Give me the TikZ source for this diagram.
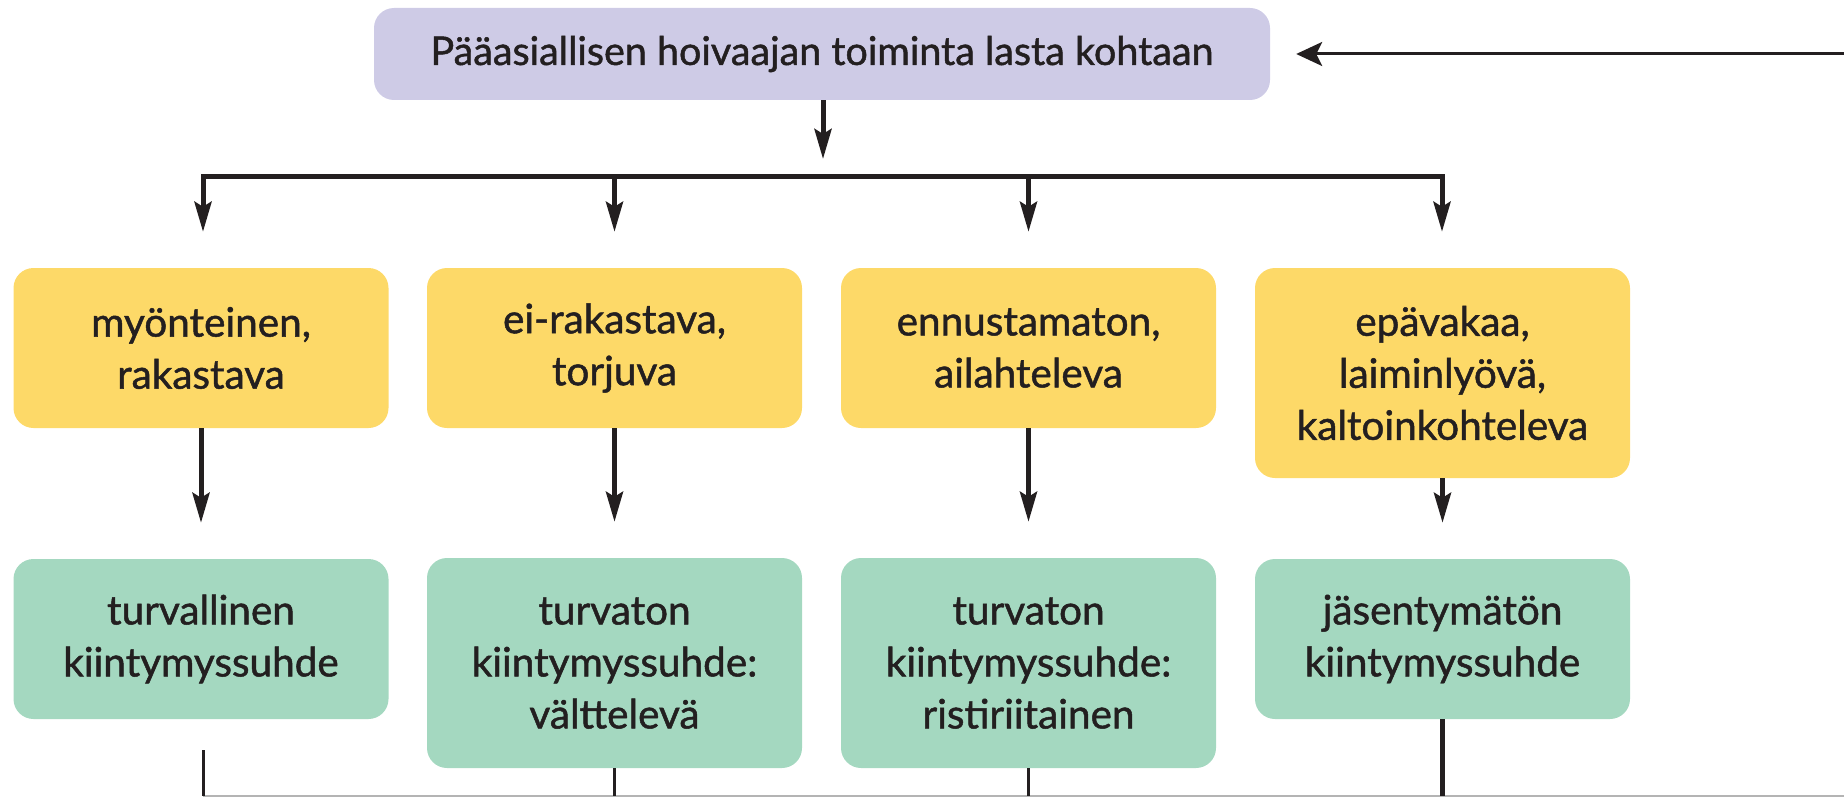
\documentclass[tikz,border=0pt]{standalone}
\usepackage{fontspec}
\setmainfont{Lato}[UprightFeatures={FakeBold=1.2}]
\usetikzlibrary{arrows.meta}
\definecolor{lav}{HTML}{CECBE6}
\definecolor{yel}{HTML}{FDD968}
\definecolor{grn}{HTML}{A4D8C0}
\definecolor{ink}{HTML}{231F20}
\definecolor{lgray}{HTML}{B4B4B4}
\begin{document}
\begin{tikzpicture}[x=1pt,y=-1pt,
 box/.style={rounded corners=20pt, minimum width=375pt, inner sep=0pt, align=center, text=ink, font=\fontsize{40.5}{52}\selectfont},
 ybox/.style={box, fill=yel},
 gbox/.style={box, fill=grn},
 arr/.style={draw=ink, line width=5pt, -{Stealth[length=30pt,width=17pt,inset=5pt]}},
 backarr/.style={draw=ink, line width=3pt, -{Stealth[length=26pt,width=24pt,inset=6pt]}},
 link/.style={draw=ink, line width=5pt},
 thinlink/.style={draw=ink, line width=3pt},
 base/.style={draw=lgray, line width=2.5pt}
]
\useasboundingbox (0,0) rectangle (1844,797);

\node[box, fill=lav, minimum width=896pt, minimum height=92pt, font=\fontsize{39.5}{45}\selectfont] (top) at (822,54) {Pääasiallisen hoivaajan toiminta lasta kohtaan};

\node[ybox, minimum height=160pt] (y1) at (201,348) {myönteinen,\\rakastava};
\node[ybox, minimum height=160pt] (y2) at (614.5,348) {ei-rakastava,\\torjuva};
\node[ybox, minimum height=160pt] (y3) at (1028.5,348) {ennustamaton,\\ailahteleva};
\node[ybox, minimum height=210pt] (y4) at (1442.5,373) {epävakaa,\\laiminlyövä,\\kaltoinkohteleva};

\node[gbox, minimum height=160pt] (g1) at (201,639) {turvallinen\\kiintymyssuhde};
\node[gbox, minimum height=210pt] (g2) at (614.5,663) {turvaton\\kiintymyssuhde:\\välttelevä};
\node[gbox, minimum height=210pt] (g3) at (1028.5,663) {turvaton\\kiintymyssuhde:\\ristiriitainen};
\node[gbox, minimum height=160pt] (g4) at (1442.5,639) {jäsentymätön\\kiintymyssuhde};

% distribution bar
\coordinate (bar) at (823,176);
\coordinate (barL) at (203,176);
\coordinate (barR) at (1442,176);
\draw[arr, shorten >=17pt] (top.south -| bar) -- (bar);
\draw[link, line cap=rect] (barL) -- (barR);
\draw[arr, shorten >=36pt] (barL) -- (barL |- y1.north);
\draw[arr, shorten >=36pt] (bar -| y2) -- (y2.north);
\draw[arr, shorten >=36pt] (bar -| y3) -- (y3.north);
\draw[arr, shorten >=36pt] (barR) -- (barR |- y4.north);

% yellow to green
\draw[arr, shorten >=36pt] (y1.south) -- (g1.north);
\draw[arr, shorten >=36pt] (y2.south) -- (g2.north);
\draw[arr, shorten >=36pt] (y3.south) -- (g3.north);
\draw[arr, shorten >=36pt] (y4.south) -- (g4.north);

% return path
\coordinate (r1) at (203,750);
\coordinate (b1) at (203,796);
\coordinate (bEnd) at (1844,796);
\coordinate (rTop) at (1844,54);
\draw[base] (b1) -- (bEnd);
\draw[thinlink] (r1) -- (b1);
\draw[thinlink] (g2.south) -- (g2.south |- b1);
\draw[thinlink] (g3.south) -- (g3.south |- b1);
\draw[link] (g4.south) -- (g4.south |- b1);
\draw[backarr, shorten >=26pt] (rTop) -- (top.east);
\end{tikzpicture}
\end{document}
